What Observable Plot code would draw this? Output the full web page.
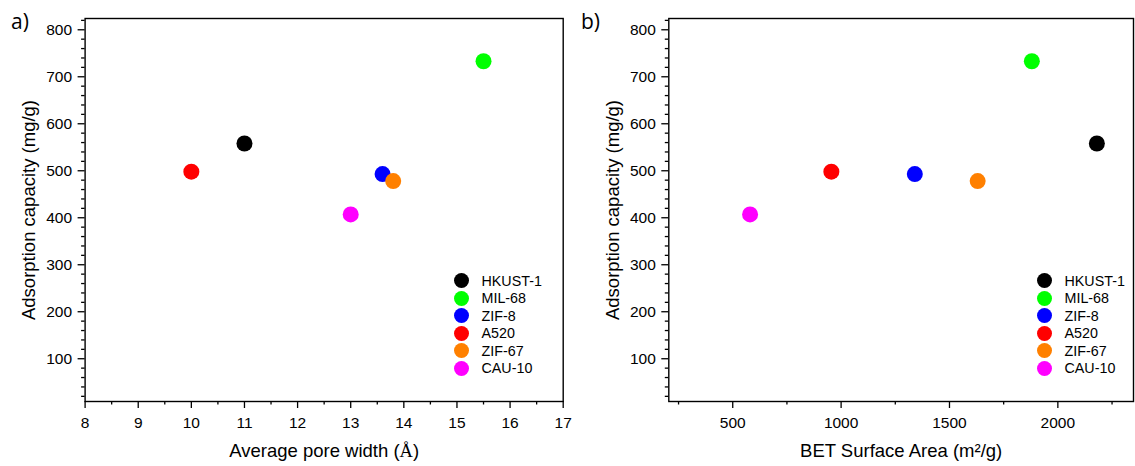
<!DOCTYPE html>
<html>
<head>
<meta charset="utf-8">
<script src="https://cdn.jsdelivr.net/npm/d3@7"></script>
<script src="https://cdn.jsdelivr.net/npm/@observablehq/plot@0.6"></script>
<style>
  body { margin: 0; background: #fff; }
  #wrap { position: relative; width: 1135px; height: 466px; overflow: hidden;
          font-family: "Liberation Sans", Arial, sans-serif; color: #000; }
  .panel { position: absolute; top: 0; }
  .tag { position: absolute; font-family: "Open Sans", sans-serif; font-size: 21px; line-height: 1; }
  .legend { position: absolute; font-size: 14.3px; }
  .legend .row { height: 17.5px; display: flex; align-items: center; }
  .legend .sw { width: 15px; height: 15px; border-radius: 50%; margin-right: 12.5px; flex: none; }
</style>
</head>
<body>
<div id="wrap"></div>
<script>
// ---- data ----
const materials = ["HKUST-1", "MIL-68", "ZIF-8", "A520", "ZIF-67", "CAU-10"];
const colors    = ["#000000", "#00ff00", "#0000ff", "#ff0000", "#ff8000", "#ff00ff"];
const capacity  = [558, 733, 493, 498, 478, 407];        // mg/g
const poreWidth = [11, 15.5, 13.6, 10, 13.8, 13];         // Å
const betArea   = [2180, 1880, 1340, 955, 1630, 580];     // m2/g

const capTicks  = [100, 200, 300, 400, 500, 600, 700, 800];
const capMinor  = [20,40,60,80,120,140,160,180,220,240,260,280,320,340,360,380,420,440,460,480,
                   520,540,560,580,620,640,660,680,720,740,760,780,820];
const poreTicks = [8, 9, 10, 11, 12, 13, 14, 15, 16, 17];
const poreMinor = [8.5, 9.5, 10.5, 11.5, 12.5, 13.5, 14.5, 15.5, 16.5];
const betTicks  = [500, 1000, 1500, 2000];
const betMinor  = [250, 750, 1250, 1750, 2250];

const yLabel = "Adsorption capacity (mg/g)";
const xLabelA = "Average pore width (Å)";
const xLabelB = "BET Surface Area (m²/g)";

const wrap = document.getElementById("wrap");
const fmt = d => String(d);

function panel({xValues, xDomain, xTicks, xMinor, xLabel, width, marginLeft, marginRight, left}) {
  const rows = materials.map((m, i) => ({m, x: xValues[i], y: capacity[i], c: colors[i]}));
  const svg = Plot.plot({
    width, height: 466, marginLeft, marginRight, marginTop: 18, marginBottom: 65,
    style: {fontFamily: "'Liberation Sans', Arial, sans-serif", fontSize: "15.5px", color: "#000", background: "transparent", overflow: "visible"},
    x: {domain: xDomain},
    y: {domain: [9, 824]},
    color: {type: "identity"},
    marks: [
      Plot.axisX(xMinor, {tickSize: 3.5, text: null, strokeWidth: 1.3, label: null}),
      Plot.axisX(xTicks, {tickSize: 7, tickPadding: 8, strokeWidth: 1.3, label: null, fontSize: 15.5, tickFormat: fmt}),
      Plot.axisY(capMinor, {tickSize: 3.5, text: null, strokeWidth: 1.3, label: null}),
      Plot.axisY(capTicks, {tickSize: 7, tickPadding: 6, strokeWidth: 1.3, label: null, fontSize: 15.5, tickFormat: fmt}),
      Plot.frame({stroke: "#000", strokeWidth: 1.4}),
      Plot.dot(rows, {x: "x", y: "y", fill: "c", r: 8}),
      Plot.text([xLabel], {frameAnchor: "bottom", dy: 55, lineAnchor: "bottom", textAnchor: "middle", fontSize: 18.5, text: d => d}),
      Plot.text([yLabel], {frameAnchor: "left", dx: -63, rotate: -90, lineAnchor: "top", textAnchor: "middle", fontSize: 18.5, text: d => d})
    ]
  });
  svg.classList.add("panel");
  svg.style.left = left + "px";
  // serif Å as in the original
  svg.querySelectorAll("text").forEach(t => {
    if (t.textContent === xLabelA) {
      t.textContent = "";
      const a = document.createElementNS("http://www.w3.org/2000/svg", "tspan");
      a.textContent = "Average pore width (";
      const b = document.createElementNS("http://www.w3.org/2000/svg", "tspan");
      b.textContent = "Å"; b.setAttribute("font-family", "'Liberation Serif', 'DejaVu Serif', serif");
      const c = document.createElementNS("http://www.w3.org/2000/svg", "tspan");
      c.textContent = ")";
      t.append(a, b, c);
    }
  });
  wrap.appendChild(svg);
}

panel({xValues: poreWidth, xDomain: [8, 17], xTicks: poreTicks, xMinor: poreMinor, xLabel: xLabelA,
       width: 570, marginLeft: 84.6, marginRight: 7.3, left: 0});
panel({xValues: betArea, xDomain: [205, 2349], xTicks: betTicks, xMinor: betMinor, xLabel: xLabelB,
       width: 565, marginLeft: 98.3, marginRight: 2, left: 570});

function tag(txt, x) {
  const d = document.createElement("div");
  d.className = "tag"; d.textContent = txt;
  d.style.left = x + "px"; d.style.top = "11px";
  wrap.appendChild(d);
}
tag("a)", 11);
tag("b)", 581);

function legend(x, y) {
  const L = document.createElement("div");
  L.className = "legend";
  L.style.left = x + "px"; L.style.top = y + "px";
  materials.forEach((m, i) => {
    const r = document.createElement("div"); r.className = "row";
    const s = document.createElement("span"); s.className = "sw"; s.style.background = colors[i];
    const t = document.createElement("span"); t.textContent = m;
    r.append(s, t); L.appendChild(r);
  });
  wrap.appendChild(L);
}
legend(454, 272);
legend(1037, 272);
</script>
</body>
</html>
